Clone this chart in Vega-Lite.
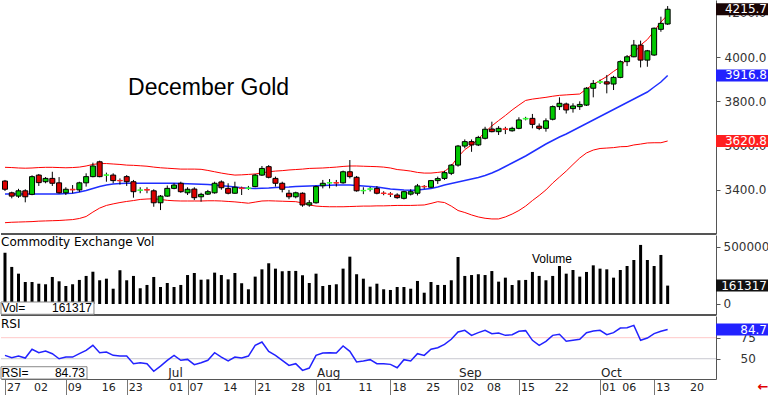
{
"$schema": "https://vega.github.io/schema/vega-lite/v6.json",
"padding": 0,
"spacing": 0,
"background": "white",
"config": {"view": {"stroke": null}, "axis": {"labelFlush": false, "labelOverlap": false, "grid": false}},
"datasets": {"bars": [
{"d":"2025-05-27","i":0,"o":3440,"h":3445,"l":3395,"c":3403,"v":450000,"rsi":54.0,"up":3502,"mid":3381.5,"lo":3252},
{"d":"2025-05-28","i":1,"o":3387,"h":3392,"l":3362,"c":3372,"v":325000,"rsi":51.2,"up":3501,"mid":3381.5,"lo":3254},
{"d":"2025-05-29","i":2,"o":3372,"h":3405,"l":3364,"c":3396,"v":266000,"rsi":53.2,"up":3499,"mid":3381.5,"lo":3255},
{"d":"2025-05-30","i":3,"o":3396,"h":3403,"l":3344,"c":3369,"v":193000,"rsi":50.8,"up":3498,"mid":3381.5,"lo":3256},
{"d":"2025-06-02","i":4,"o":3380,"h":3466,"l":3376,"c":3460,"v":193000,"rsi":61.2,"up":3499,"mid":3381.5,"lo":3257},
{"d":"2025-06-03","i":5,"o":3467,"h":3472,"l":3418,"c":3433,"v":178000,"rsi":57.2,"up":3501,"mid":3381.5,"lo":3259},
{"d":"2025-06-04","i":6,"o":3437,"h":3458,"l":3430,"c":3452,"v":173000,"rsi":59.2,"up":3502,"mid":3381.5,"lo":3260},
{"d":"2025-06-05","i":7,"o":3452,"h":3482,"l":3418,"c":3430,"v":237000,"rsi":56.0,"up":3502,"mid":3381.5,"lo":3261},
{"d":"2025-06-06","i":8,"o":3432,"h":3458,"l":3383,"c":3387,"v":199000,"rsi":50.0,"up":3501,"mid":3381.5,"lo":3262},
{"d":"2025-06-09","i":9,"o":3387,"h":3412,"l":3377,"c":3403,"v":158000,"rsi":52.0,"up":3500,"mid":3383.8,"lo":3264},
{"d":"2025-06-10","i":10,"o":3403,"h":3422,"l":3385,"c":3400,"v":173000,"rsi":52.0,"up":3501,"mid":3384.7,"lo":3266},
{"d":"2025-06-11","i":11,"o":3400,"h":3437,"l":3390,"c":3432,"v":211000,"rsi":56.0,"up":3503,"mid":3390.6,"lo":3271},
{"d":"2025-06-12","i":12,"o":3432,"h":3475,"l":3415,"c":3460,"v":246000,"rsi":60.0,"up":3508,"mid":3397.3,"lo":3280},
{"d":"2025-06-13","i":13,"o":3460,"h":3523,"l":3457,"c":3508,"v":283000,"rsi":65.9,"up":3515,"mid":3406.4,"lo":3300},
{"d":"2025-06-16","i":14,"o":3527,"h":3532,"l":3457,"c":3460,"v":208000,"rsi":57.2,"up":3519,"mid":3415.4,"lo":3318},
{"d":"2025-06-17","i":15,"o":3466,"h":3478,"l":3437,"c":3468,"v":222000,"rsi":58.0,"up":3519,"mid":3422.2,"lo":3330},
{"d":"2025-06-18","i":16,"o":3467,"h":3475,"l":3430,"c":3442,"v":134000,"rsi":54.0,"up":3517,"mid":3426.7,"lo":3337},
{"d":"2025-06-20","i":17,"o":3443,"h":3452,"l":3424,"c":3441,"v":296000,"rsi":53.2,"up":3515,"mid":3428.9,"lo":3343},
{"d":"2025-06-23","i":18,"o":3460,"h":3467,"l":3418,"c":3437,"v":208000,"rsi":53.2,"up":3512,"mid":3429.8,"lo":3348},
{"d":"2025-06-24","i":19,"o":3437,"h":3445,"l":3365,"c":3392,"v":246000,"rsi":44.1,"up":3511,"mid":3429.8,"lo":3352},
{"d":"2025-06-25","i":20,"o":3398,"h":3412,"l":3385,"c":3400,"v":138000,"rsi":45.3,"up":3509,"mid":3429.8,"lo":3357},
{"d":"2025-06-26","i":21,"o":3402,"h":3412,"l":3385,"c":3399,"v":167000,"rsi":44.1,"up":3507,"mid":3429.8,"lo":3359},
{"d":"2025-06-27","i":22,"o":3396,"h":3403,"l":3324,"c":3342,"v":237000,"rsi":35.0,"up":3503,"mid":3429.8,"lo":3360},
{"d":"2025-06-30","i":23,"o":3342,"h":3377,"l":3309,"c":3372,"v":149000,"rsi":41.3,"up":3500,"mid":3429.8,"lo":3357},
{"d":"2025-07-01","i":24,"o":3372,"h":3420,"l":3369,"c":3407,"v":184000,"rsi":48.1,"up":3498,"mid":3429.8,"lo":3353},
{"d":"2025-07-02","i":25,"o":3407,"h":3430,"l":3403,"c":3422,"v":149000,"rsi":54.0,"up":3496,"mid":3429.8,"lo":3351},
{"d":"2025-07-03","i":26,"o":3430,"h":3437,"l":3387,"c":3392,"v":167000,"rsi":48.1,"up":3494,"mid":3428.9,"lo":3350},
{"d":"2025-07-07","i":27,"o":3387,"h":3412,"l":3377,"c":3403,"v":254000,"rsi":49.2,"up":3494,"mid":3427.6,"lo":3350},
{"d":"2025-07-08","i":28,"o":3404,"h":3412,"l":3354,"c":3365,"v":272000,"rsi":42.9,"up":3494,"mid":3426.7,"lo":3350},
{"d":"2025-07-09","i":29,"o":3369,"h":3387,"l":3347,"c":3380,"v":213000,"rsi":45.3,"up":3493,"mid":3425.3,"lo":3350},
{"d":"2025-07-10","i":30,"o":3381,"h":3400,"l":3377,"c":3392,"v":216000,"rsi":48.1,"up":3488,"mid":3424.4,"lo":3351},
{"d":"2025-07-11","i":31,"o":3387,"h":3437,"l":3383,"c":3430,"v":275000,"rsi":57.2,"up":3482,"mid":3422.2,"lo":3351},
{"d":"2025-07-14","i":32,"o":3436,"h":3443,"l":3401,"c":3410,"v":254000,"rsi":52.0,"up":3476,"mid":3419.0,"lo":3350},
{"d":"2025-07-15","i":33,"o":3407,"h":3430,"l":3380,"c":3385,"v":216000,"rsi":47.3,"up":3471,"mid":3416.3,"lo":3348},
{"d":"2025-07-16","i":34,"o":3385,"h":3437,"l":3383,"c":3412,"v":272000,"rsi":52.0,"up":3467,"mid":3413.1,"lo":3346},
{"d":"2025-07-17","i":35,"o":3409,"h":3415,"l":3377,"c":3406,"v":182000,"rsi":50.8,"up":3468,"mid":3410.0,"lo":3343},
{"d":"2025-07-18","i":36,"o":3406,"h":3418,"l":3400,"c":3409,"v":129000,"rsi":53.2,"up":3470,"mid":3407.3,"lo":3340},
{"d":"2025-07-21","i":37,"o":3415,"h":3472,"l":3412,"c":3467,"v":240000,"rsi":65.9,"up":3472,"mid":3406.4,"lo":3345},
{"d":"2025-07-22","i":38,"o":3467,"h":3508,"l":3463,"c":3497,"v":304000,"rsi":69.9,"up":3477,"mid":3407.3,"lo":3350},
{"d":"2025-07-23","i":39,"o":3505,"h":3512,"l":3452,"c":3457,"v":357000,"rsi":58.8,"up":3482,"mid":3408.6,"lo":3351},
{"d":"2025-07-24","i":40,"o":3452,"h":3460,"l":3415,"c":3430,"v":310000,"rsi":54.0,"up":3485,"mid":3410.9,"lo":3350},
{"d":"2025-07-25","i":41,"o":3430,"h":3437,"l":3389,"c":3403,"v":287000,"rsi":48.1,"up":3487,"mid":3411.8,"lo":3349},
{"d":"2025-07-28","i":42,"o":3385,"h":3400,"l":3358,"c":3369,"v":290000,"rsi":42.1,"up":3490,"mid":3413.1,"lo":3348},
{"d":"2025-07-29","i":43,"o":3369,"h":3392,"l":3362,"c":3387,"v":290000,"rsi":44.1,"up":3492,"mid":3415.4,"lo":3347},
{"d":"2025-07-30","i":44,"o":3385,"h":3389,"l":3324,"c":3332,"v":252000,"rsi":36.2,"up":3494,"mid":3416.3,"lo":3341},
{"d":"2025-07-31","i":45,"o":3332,"h":3354,"l":3324,"c":3342,"v":184000,"rsi":38.9,"up":3497,"mid":3417.7,"lo":3332},
{"d":"2025-08-01","i":46,"o":3342,"h":3420,"l":3338,"c":3415,"v":266000,"rsi":54.0,"up":3498,"mid":3418.6,"lo":3327},
{"d":"2025-08-04","i":47,"o":3419,"h":3445,"l":3407,"c":3430,"v":158000,"rsi":56.8,"up":3499,"mid":3419.9,"lo":3325},
{"d":"2025-08-05","i":48,"o":3431,"h":3449,"l":3407,"c":3433,"v":167000,"rsi":57.2,"up":3501,"mid":3420.8,"lo":3324},
{"d":"2025-08-06","i":49,"o":3433,"h":3445,"l":3415,"c":3431,"v":173000,"rsi":56.8,"up":3503,"mid":3422.2,"lo":3324},
{"d":"2025-08-07","i":50,"o":3432,"h":3487,"l":3428,"c":3482,"v":310000,"rsi":65.1,"up":3506,"mid":3422.2,"lo":3324},
{"d":"2025-08-08","i":51,"o":3482,"h":3535,"l":3452,"c":3460,"v":415000,"rsi":58.8,"up":3508,"mid":3422.2,"lo":3325},
{"d":"2025-08-11","i":52,"o":3457,"h":3463,"l":3392,"c":3396,"v":261000,"rsi":46.1,"up":3508,"mid":3419.9,"lo":3326},
{"d":"2025-08-12","i":53,"o":3396,"h":3412,"l":3381,"c":3398,"v":222000,"rsi":47.3,"up":3507,"mid":3417.7,"lo":3327},
{"d":"2025-08-13","i":54,"o":3403,"h":3413,"l":3393,"c":3405,"v":152000,"rsi":48.9,"up":3506,"mid":3415.4,"lo":3327},
{"d":"2025-08-14","i":55,"o":3407,"h":3417,"l":3380,"c":3385,"v":178000,"rsi":44.1,"up":3505,"mid":3413.1,"lo":3328},
{"d":"2025-08-15","i":56,"o":3386,"h":3394,"l":3376,"c":3384,"v":129000,"rsi":44.1,"up":3503,"mid":3408.6,"lo":3328},
{"d":"2025-08-18","i":57,"o":3382,"h":3390,"l":3368,"c":3380,"v":123000,"rsi":43.3,"up":3499,"mid":3404.1,"lo":3329},
{"d":"2025-08-19","i":58,"o":3377,"h":3385,"l":3360,"c":3365,"v":149000,"rsi":39.3,"up":3492,"mid":3401.9,"lo":3330},
{"d":"2025-08-20","i":59,"o":3362,"h":3396,"l":3357,"c":3392,"v":149000,"rsi":48.9,"up":3489,"mid":3399.6,"lo":3330},
{"d":"2025-08-21","i":60,"o":3381,"h":3403,"l":3375,"c":3392,"v":134000,"rsi":47.3,"up":3485,"mid":3398.2,"lo":3330},
{"d":"2025-08-22","i":61,"o":3385,"h":3427,"l":3375,"c":3418,"v":202000,"rsi":56.0,"up":3479,"mid":3399.6,"lo":3331},
{"d":"2025-08-25","i":62,"o":3416,"h":3422,"l":3405,"c":3414,"v":99000,"rsi":54.0,"up":3476,"mid":3402.8,"lo":3332},
{"d":"2025-08-26","i":63,"o":3412,"h":3445,"l":3408,"c":3442,"v":193000,"rsi":61.2,"up":3476,"mid":3406.4,"lo":3339},
{"d":"2025-08-27","i":64,"o":3442,"h":3460,"l":3427,"c":3451,"v":167000,"rsi":63.1,"up":3479,"mid":3413.1,"lo":3347},
{"d":"2025-08-28","i":65,"o":3452,"h":3487,"l":3445,"c":3478,"v":167000,"rsi":67.1,"up":3483,"mid":3422.2,"lo":3343},
{"d":"2025-08-29","i":66,"o":3475,"h":3517,"l":3467,"c":3512,"v":208000,"rsi":73.1,"up":3508,"mid":3428.9,"lo":3327},
{"d":"2025-09-02","i":67,"o":3512,"h":3603,"l":3505,"c":3598,"v":412000,"rsi":81.8,"up":3549,"mid":3435.7,"lo":3307},
{"d":"2025-09-03","i":68,"o":3598,"h":3628,"l":3588,"c":3618,"v":246000,"rsi":83.8,"up":3582,"mid":3442.5,"lo":3298},
{"d":"2025-09-04","i":69,"o":3618,"h":3628,"l":3572,"c":3603,"v":254000,"rsi":77.8,"up":3603,"mid":3449.2,"lo":3287},
{"d":"2025-09-05","i":70,"o":3603,"h":3644,"l":3598,"c":3637,"v":261000,"rsi":81.0,"up":3630,"mid":3456.0,"lo":3278},
{"d":"2025-09-08","i":71,"o":3633,"h":3685,"l":3628,"c":3674,"v":254000,"rsi":83.8,"up":3661,"mid":3465.0,"lo":3272},
{"d":"2025-09-09","i":72,"o":3675,"h":3708,"l":3660,"c":3663,"v":289000,"rsi":79.8,"up":3689,"mid":3476.3,"lo":3269},
{"d":"2025-09-10","i":73,"o":3663,"h":3688,"l":3648,"c":3678,"v":196000,"rsi":80.6,"up":3713,"mid":3489.9,"lo":3269},
{"d":"2025-09-11","i":74,"o":3676,"h":3685,"l":3652,"c":3673,"v":231000,"rsi":77.8,"up":3736,"mid":3505.6,"lo":3278},
{"d":"2025-09-12","i":75,"o":3667,"h":3685,"l":3663,"c":3678,"v":167000,"rsi":78.6,"up":3761,"mid":3521.4,"lo":3291},
{"d":"2025-09-15","i":76,"o":3678,"h":3728,"l":3674,"c":3716,"v":208000,"rsi":82.6,"up":3783,"mid":3537.3,"lo":3307},
{"d":"2025-09-16","i":77,"o":3720,"h":3730,"l":3714,"c":3723,"v":211000,"rsi":83.4,"up":3804,"mid":3553.1,"lo":3327},
{"d":"2025-09-17","i":78,"o":3723,"h":3743,"l":3678,"c":3696,"v":281000,"rsi":71.9,"up":3810,"mid":3571.1,"lo":3352},
{"d":"2025-09-18","i":79,"o":3688,"h":3700,"l":3670,"c":3678,"v":246000,"rsi":65.9,"up":3814,"mid":3589.2,"lo":3375},
{"d":"2025-09-19","i":80,"o":3678,"h":3723,"l":3663,"c":3712,"v":208000,"rsi":70.7,"up":3818,"mid":3607.2,"lo":3400},
{"d":"2025-09-22","i":81,"o":3719,"h":3781,"l":3714,"c":3776,"v":246000,"rsi":77.8,"up":3823,"mid":3623.0,"lo":3431},
{"d":"2025-09-23","i":82,"o":3776,"h":3818,"l":3761,"c":3791,"v":333000,"rsi":79.0,"up":3827,"mid":3638.8,"lo":3458},
{"d":"2025-09-24","i":83,"o":3788,"h":3794,"l":3745,"c":3761,"v":266000,"rsi":70.7,"up":3829,"mid":3652.4,"lo":3485},
{"d":"2025-09-25","i":84,"o":3767,"h":3791,"l":3749,"c":3779,"v":298000,"rsi":71.9,"up":3831,"mid":3668.2,"lo":3515},
{"d":"2025-09-26","i":85,"o":3776,"h":3800,"l":3761,"c":3786,"v":240000,"rsi":73.1,"up":3833,"mid":3684.0,"lo":3544},
{"d":"2025-09-29","i":86,"o":3783,"h":3864,"l":3779,"c":3859,"v":281000,"rsi":81.0,"up":3856,"mid":3699.8,"lo":3567},
{"d":"2025-09-30","i":87,"o":3859,"h":3896,"l":3818,"c":3881,"v":339000,"rsi":83.0,"up":3876,"mid":3715.6,"lo":3580},
{"d":"2025-10-01","i":88,"o":3886,"h":3898,"l":3878,"c":3889,"v":310000,"rsi":83.8,"up":3894,"mid":3731.4,"lo":3587},
{"d":"2025-10-02","i":89,"o":3888,"h":3919,"l":3836,"c":3878,"v":304000,"rsi":78.6,"up":3912,"mid":3747.2,"lo":3589},
{"d":"2025-10-03","i":90,"o":3878,"h":3915,"l":3851,"c":3908,"v":231000,"rsi":81.0,"up":3935,"mid":3763.0,"lo":3591},
{"d":"2025-10-06","i":91,"o":3908,"h":3985,"l":3904,"c":3979,"v":298000,"rsi":86.5,"up":3955,"mid":3778.8,"lo":3595},
{"d":"2025-10-07","i":92,"o":3979,"h":4009,"l":3959,"c":4001,"v":333000,"rsi":86.9,"up":3996,"mid":3794.6,"lo":3596},
{"d":"2025-10-08","i":93,"o":4001,"h":4077,"l":3999,"c":4054,"v":386000,"rsi":89.7,"up":4018,"mid":3810.4,"lo":3603},
{"d":"2025-10-09","i":94,"o":4054,"h":4074,"l":3953,"c":3986,"v":518000,"rsi":71.9,"up":4054,"mid":3826.2,"lo":3607},
{"d":"2025-10-10","i":95,"o":3986,"h":4032,"l":3956,"c":4028,"v":386000,"rsi":74.6,"up":4079,"mid":3842.0,"lo":3612},
{"d":"2025-10-13","i":96,"o":4009,"h":4133,"l":4005,"c":4130,"v":333000,"rsi":79.8,"up":4117,"mid":3864.6,"lo":3613},
{"d":"2025-10-14","i":97,"o":4125,"h":4182,"l":4114,"c":4152,"v":430000,"rsi":82.6,"up":4158,"mid":3887.2,"lo":3613},
{"d":"2025-10-15","i":98,"o":4149,"h":4230,"l":4145,"c":4215.7,"v":161317,"rsi":84.73,"up":4190,"mid":3916.8,"lo":3620.8}
],
"dates": [
{"i":0,"lab":"27"},{"i":4,"lab":"02"},{"i":9,"lab":"09"},{"i":14,"lab":"16"},{"i":18,"lab":"23"},{"i":24,"lab":"01"},{"i":27,"lab":"07"},{"i":32,"lab":"14"},{"i":37,"lab":"21"},{"i":42,"lab":"28"},{"i":46,"lab":"01"},{"i":52,"lab":"11"},{"i":57,"lab":"18"},{"i":62,"lab":"25"},{"i":67,"lab":"02"},{"i":71,"lab":"08"},{"i":76,"lab":"15"},{"i":81,"lab":"22"},{"i":88,"lab":"01"},{"i":91,"lab":"06"},{"i":96,"lab":"13"},{"i":101,"lab":"20"}
]},
"vconcat": [
{
 "width": 715, "height": 234,
 "data": {"name": "bars"},
 "layer": [
  {"mark": {"type": "line", "color": "#ff0000", "strokeWidth": 1},
   "encoding": {
    "x": {"field": "i", "type": "quantitative", "scale": {"domain": [-0.59, 105.15], "nice": false, "zero": false, "padding": 0}, "axis": null},
    "y": {"field": "up", "type": "quantitative", "title": null, "scale": {"domain": [3201, 4257.4], "nice": false, "zero": false},
      "axis": {"orient": "right", "values": [3400, 3600, 3800, 4000, 4200], "format": ".1f",
        "tickSize": 4, "tickColor": "#555", "domainColor": "#555", "labelAlign": "left", "labelPadding": 4,
        "labelFont": "DejaVu Sans", "labelFontSize": 12, "labelColor": "#333", "labelOverlap": false}}}},
  {"mark": {"type": "line", "color": "#ff0000", "strokeWidth": 1},
   "encoding": {"x": {"field": "i", "type": "quantitative"}, "y": {"field": "lo", "type": "quantitative", "title": null}}},
  {"mark": {"type": "line", "color": "#1f2fff", "strokeWidth": 1.5},
   "encoding": {"x": {"field": "i", "type": "quantitative"}, "y": {"field": "mid", "type": "quantitative", "title": null}}},
  {"mark": {"type": "rule", "color": "#000", "strokeWidth": 1},
   "encoding": {"x": {"field": "i", "type": "quantitative"}, "y": {"field": "l", "type": "quantitative", "title": null}, "y2": {"field": "h"}}},
  {"mark": {"type": "bar", "width": 5, "strokeWidth": 1},
   "encoding": {"x": {"field": "i", "type": "quantitative"}, "y": {"field": "o", "type": "quantitative", "title": null}, "y2": {"field": "c"},
    "color": {"condition": [{"test": "abs(datum.c - datum.o) < 4 && datum.c >= datum.o", "value": "#33ff33"}, {"test": "abs(datum.c - datum.o) < 4", "value": "#ff2222"}, {"test": "datum.c >= datum.o", "value": "#00c800"}], "value": "#dd0000"},
    "stroke": {"condition": [{"test": "abs(datum.c - datum.o) < 4 && datum.c >= datum.o", "value": "#33ff33"}, {"test": "abs(datum.c - datum.o) < 4", "value": "#ff2222"}], "value": "#000"}}},
  {"data": {"values": [{}]}, "mark": {"type": "rule", "color": "#555", "strokeWidth": 2},
   "encoding": {"y": {"datum": 3201, "type": "quantitative"}}},
  {"data": {"values": [{}]}, "mark": {"type": "text", "font": "Liberation Sans", "fontSize": 23, "align": "left", "baseline": "middle", "color": "#000"},
   "encoding": {"x": {"datum": 18.2, "type": "quantitative"}, "y": {"datum": 3860, "type": "quantitative"}, "text": {"value": "December Gold"}}},
  {"transform": [{"filter": "datum.i == 98"}], "mark": {"type": "tick", "orient": "horizontal", "size": 53, "thickness": 12, "color": "#1a0505", "opacity": 1},
   "encoding": {"x": {"datum": 109.07, "type": "quantitative"}, "y": {"field": "c", "type": "quantitative", "title": null}}},
  {"transform": [{"filter": "datum.i == 98"}], "mark": {"type": "text", "font": "DejaVu Sans", "fontSize": 12, "align": "right", "baseline": "middle", "color": "#fff"},
   "encoding": {"x": {"datum": 112.69, "type": "quantitative"}, "y": {"field": "c", "type": "quantitative", "title": null}, "text": {"field": "c", "format": ".1f"}}},
  {"transform": [{"filter": "datum.i == 98"}], "mark": {"type": "tick", "orient": "horizontal", "size": 53, "thickness": 12, "color": "#2222ff", "opacity": 1},
   "encoding": {"x": {"datum": 109.07, "type": "quantitative"}, "y": {"field": "mid", "type": "quantitative", "title": null}}},
  {"transform": [{"filter": "datum.i == 98"}], "mark": {"type": "text", "font": "DejaVu Sans", "fontSize": 12, "align": "right", "baseline": "middle", "color": "#fff"},
   "encoding": {"x": {"datum": 112.69, "type": "quantitative"}, "y": {"field": "mid", "type": "quantitative", "title": null}, "text": {"field": "mid", "format": ".1f"}}},
  {"transform": [{"filter": "datum.i == 98"}], "mark": {"type": "tick", "orient": "horizontal", "size": 53, "thickness": 12, "color": "#ff2020", "opacity": 1},
   "encoding": {"x": {"datum": 109.07, "type": "quantitative"}, "y": {"field": "lo", "type": "quantitative", "title": null}}},
  {"transform": [{"filter": "datum.i == 98"}], "mark": {"type": "text", "font": "DejaVu Sans", "fontSize": 12, "align": "right", "baseline": "middle", "color": "#fff"},
   "encoding": {"x": {"datum": 112.69, "type": "quantitative"}, "y": {"field": "lo", "type": "quantitative", "title": null}, "text": {"field": "lo", "format": ".1f"}}}
 ]
},
{
 "width": 715, "height": 80,
 "data": {"name": "bars"},
 "layer": [
  {"mark": {"type": "bar", "width": 3, "color": "#000"},
   "encoding": {
    "x": {"field": "i", "type": "quantitative", "scale": {"domain": [-0.59, 105.15], "nice": false, "zero": false, "padding": 0}, "axis": null},
    "y": {"field": "v", "type": "quantitative", "title": null, "scale": {"domain": [-96500, 605000], "nice": false, "zero": false},
      "axis": {"orient": "right", "values": [0, 250000, 500000], "format": "d",
        "tickSize": 4, "tickColor": "#555", "domainColor": "#555", "labelAlign": "left", "labelPadding": 3,
        "labelFont": "DejaVu Sans", "labelFontSize": 12, "labelColor": "#333", "labelOverlap": false, "labelSeparation": 0}},
    "y2": {"datum": 0}}},
  {"data": {"values": [{}]}, "mark": {"type": "rule", "color": "#555", "strokeWidth": 2},
   "encoding": {"y": {"datum": -96500, "type": "quantitative"}}},
  {"data": {"values": [{}]}, "mark": {"type": "text", "font": "DejaVu Sans", "fontSize": 12, "align": "left", "baseline": "middle", "color": "#000"},
   "encoding": {"x": {"datum": -0.59, "type": "quantitative"}, "y": {"datum": 544000, "type": "quantitative"}, "text": {"value": "Commodity Exchange Vol"}}},
  {"data": {"values": [{}]}, "mark": {"type": "text", "font": "Liberation Sans", "fontSize": 12, "align": "center", "baseline": "middle", "color": "#000"},
   "encoding": {"x": {"datum": 80.9, "type": "quantitative"}, "y": {"datum": 395000, "type": "quantitative"}, "text": {"value": "Volume"}}},
  {"data": {"values": [{}]}, "mark": {"type": "rect", "fill": "#fff", "stroke": "#888", "strokeWidth": 1},
   "encoding": {"x": {"datum": -0.59, "type": "quantitative"}, "x2": {"datum": 13.16}, "y": {"datum": 17500, "type": "quantitative"}, "y2": {"datum": -90000}}},
  {"data": {"values": [{}]}, "mark": {"type": "text", "font": "Liberation Sans", "fontSize": 12, "align": "left", "baseline": "middle", "color": "#000"},
   "encoding": {"x": {"datum": -0.5, "type": "quantitative"}, "y": {"datum": -36000, "type": "quantitative"}, "text": {"value": "Vol="}}},
  {"transform": [{"filter": "datum.i == 98"}], "mark": {"type": "text", "font": "Liberation Sans", "fontSize": 12, "align": "right", "baseline": "middle", "color": "#000"},
   "encoding": {"x": {"datum": 12.87, "type": "quantitative"}, "y": {"datum": -36000, "type": "quantitative"}, "text": {"field": "v", "format": "d"}}},
  {"transform": [{"filter": "datum.i == 98"}], "mark": {"type": "tick", "orient": "horizontal", "size": 53, "thickness": 12, "color": "#111", "opacity": 1},
   "encoding": {"x": {"datum": 109.07, "type": "quantitative"}, "y": {"field": "v", "type": "quantitative", "title": null}}},
  {"transform": [{"filter": "datum.i == 98"}], "mark": {"type": "text", "font": "DejaVu Sans", "fontSize": 12, "align": "right", "baseline": "middle", "color": "#fff"},
   "encoding": {"x": {"datum": 112.69, "type": "quantitative"}, "y": {"field": "v", "type": "quantitative", "title": null}, "text": {"field": "v", "format": "d"}}}
 ]
},
{
 "width": 715, "height": 63,
 "data": {"name": "bars"},
 "layer": [
  {"data": {"values": [{}]}, "mark": {"type": "rule", "color": "#ffc8c8", "strokeWidth": 1},
   "encoding": {"y": {"datum": 75, "type": "quantitative", "scale": {"domain": [25.9, 100.8], "nice": false, "zero": false}}}},
  {"data": {"values": [{}]}, "mark": {"type": "rule", "color": "#c8c8d0", "strokeWidth": 1},
   "encoding": {"y": {"datum": 50, "type": "quantitative"}}},
  {"mark": {"type": "line", "color": "#2222ff", "strokeWidth": 1.5},
   "encoding": {
    "x": {"field": "i", "type": "quantitative", "scale": {"domain": [-0.59, 105.15], "nice": false, "zero": false, "padding": 0},
      "axis": {"values": [0,4,9,14,18,24,27,32,37,42,46,52,57,62,67,71,76,81,88,91,96,101], "labels": false,
        "tickSize": 18, "tickColor": "#777", "domainColor": "#555", "title": null}},
    "y": {"field": "rsi", "type": "quantitative", "title": null,
      "axis": {"orient": "right", "values": [50, 75], "format": "d",
        "tickSize": 4, "tickColor": "#555", "domainColor": "#555", "labelAlign": "left", "labelPadding": 20,
        "labelFont": "DejaVu Sans", "labelFontSize": 12, "labelColor": "#333", "labelOverlap": false}}}},
  {"data": {"name": "dates"},
   "mark": {"type": "text", "font": "DejaVu Sans", "fontSize": 11, "align": "left", "baseline": "middle", "dx": 2, "color": "#222"},
   "encoding": {"x": {"field": "i", "type": "quantitative"}, "y": {"datum": 15.2, "type": "quantitative"}, "text": {"field": "lab"}}},
  {"data": {"values": [{"i": 24, "m": "Jul"}, {"i": 46, "m": "Aug"}, {"i": 67, "m": "Sep"}, {"i": 88, "m": "Oct"}]},
   "mark": {"type": "text", "font": "DejaVu Sans", "fontSize": 12, "align": "left", "baseline": "alphabetic", "dx": 1, "color": "#222"},
   "encoding": {"x": {"field": "i", "type": "quantitative"}, "y": {"datum": 28.3, "type": "quantitative"}, "text": {"field": "m"}}},
  {"data": {"values": [{}]}, "mark": {"type": "text", "font": "DejaVu Sans", "fontSize": 12, "align": "left", "baseline": "middle", "color": "#000"},
   "encoding": {"x": {"datum": -0.59, "type": "quantitative"}, "y": {"datum": 91.5, "type": "quantitative"}, "text": {"value": "RSI"}}},
  {"data": {"values": [{}]}, "mark": {"type": "rect", "fill": "#fff", "stroke": "#888", "strokeWidth": 1},
   "encoding": {"x": {"datum": -0.59, "type": "quantitative"}, "x2": {"datum": 12.13}, "y": {"datum": 40.5, "type": "quantitative"}, "y2": {"datum": 25.9}}},
  {"data": {"values": [{}]}, "mark": {"type": "text", "font": "Liberation Sans", "fontSize": 12, "align": "left", "baseline": "middle", "color": "#000"},
   "encoding": {"x": {"datum": -0.5, "type": "quantitative"}, "y": {"datum": 33, "type": "quantitative"}, "text": {"value": "RSI="}}},
  {"transform": [{"filter": "datum.i == 98"}], "mark": {"type": "text", "font": "Liberation Sans", "fontSize": 12, "align": "right", "baseline": "middle", "color": "#000"},
   "encoding": {"x": {"datum": 11.83, "type": "quantitative"}, "y": {"datum": 33, "type": "quantitative"}, "text": {"field": "rsi", "format": ".2f"}}},
  {"transform": [{"filter": "datum.i == 98"}], "mark": {"type": "tick", "orient": "horizontal", "size": 53, "thickness": 12, "color": "#2222ff", "opacity": 1},
   "encoding": {"x": {"datum": 109.07, "type": "quantitative"}, "y": {"field": "rsi", "type": "quantitative", "title": null}}},
  {"transform": [{"filter": "datum.i == 98"}], "mark": {"type": "text", "font": "DejaVu Sans", "fontSize": 12, "align": "right", "baseline": "middle", "color": "#fff"},
   "encoding": {"x": {"datum": 112.69, "type": "quantitative"}, "y": {"field": "rsi", "type": "quantitative", "title": null}, "text": {"field": "rsi", "format": ".1f"}}},
  {"data": {"values": [{}]}, "mark": {"type": "text", "font": "DejaVu Sans", "fontSize": 13, "fontWeight": "bold", "align": "center", "baseline": "middle", "color": "#e00000"},
   "encoding": {"x": {"datum": 112.1, "type": "quantitative"}, "y": {"datum": 16.4, "type": "quantitative"}, "text": {"value": "←"}}}
 ]
}
]
}
